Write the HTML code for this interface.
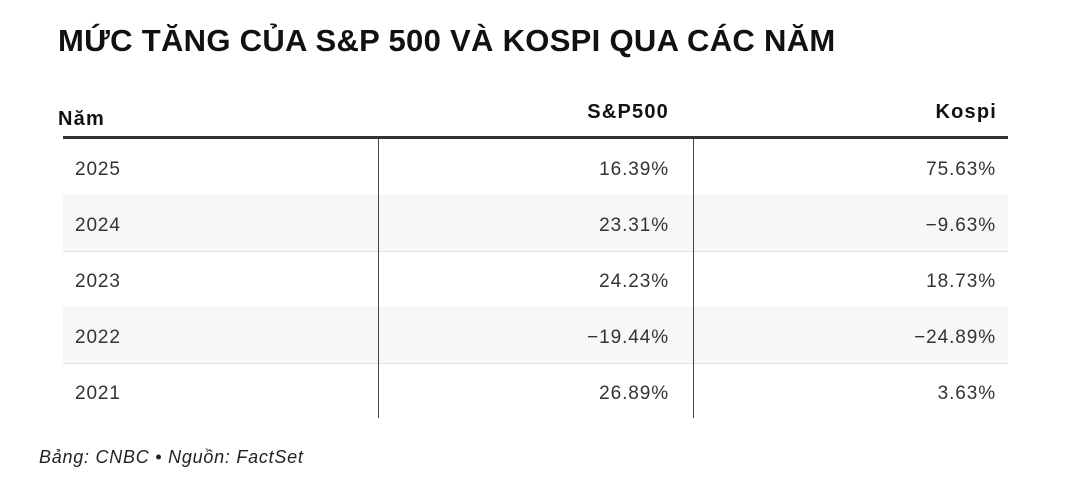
<!DOCTYPE html>
<html><head><meta charset="utf-8"><style>
body{margin:0;width:1083px;height:492px;background:#fff;font-family:"Liberation Sans",sans-serif;position:relative;overflow:hidden}
.t{position:absolute;left:58px;top:23px;font-size:31px;font-weight:bold;color:#111;white-space:nowrap;letter-spacing:0.3px}
.h{position:absolute;top:101px;font-size:20px;font-weight:bold;color:#111;letter-spacing:1.2px}
.rule{position:absolute;left:63px;width:945px;top:136px;height:3px;background:#333}
.row{position:absolute;left:63px;width:945px;height:56px;border-bottom:1px solid #e3e3e3;font-size:19px;color:#333;letter-spacing:0.9px}
.row span{position:absolute;top:20px}
.v{position:absolute;top:139px;height:279px;width:1px;background:#444}
.f{position:absolute;left:39px;top:447px;font-size:18px;font-style:italic;color:#222;letter-spacing:0.75px;white-space:nowrap}
</style></head><body>
<div class="t">MỨC TĂNG CỦA S&amp;P 500 VÀ KOSPI QUA CÁC NĂM</div>
<div class="h" style="left:58px;top:108px">Năm</div>
<div class="h" style="right:414px">S&amp;P500</div>
<div class="h" style="right:86px">Kospi</div>
<div class="rule"></div>
<div class="row" style="top:139px"><span style="left:12px">2025</span><span style="right:339px">16.39%</span><span style="right:12px">75.63%</span></div>
<div class="row" style="top:195px;background:#f7f7f7"><span style="left:12px">2024</span><span style="right:339px">23.31%</span><span style="right:12px">−9.63%</span></div>
<div class="row" style="top:251px"><span style="left:12px">2023</span><span style="right:339px">24.23%</span><span style="right:12px">18.73%</span></div>
<div class="row" style="top:307px;background:#f7f7f7"><span style="left:12px">2022</span><span style="right:339px">−19.44%</span><span style="right:12px">−24.89%</span></div>
<div class="row" style="top:363px;border-bottom:none"><span style="left:12px">2021</span><span style="right:339px">26.89%</span><span style="right:12px">3.63%</span></div>
<div class="v" style="left:378px"></div>
<div class="v" style="left:693px"></div>
<div class="f">Bảng: CNBC • Nguồn: FactSet</div>
</body></html>
